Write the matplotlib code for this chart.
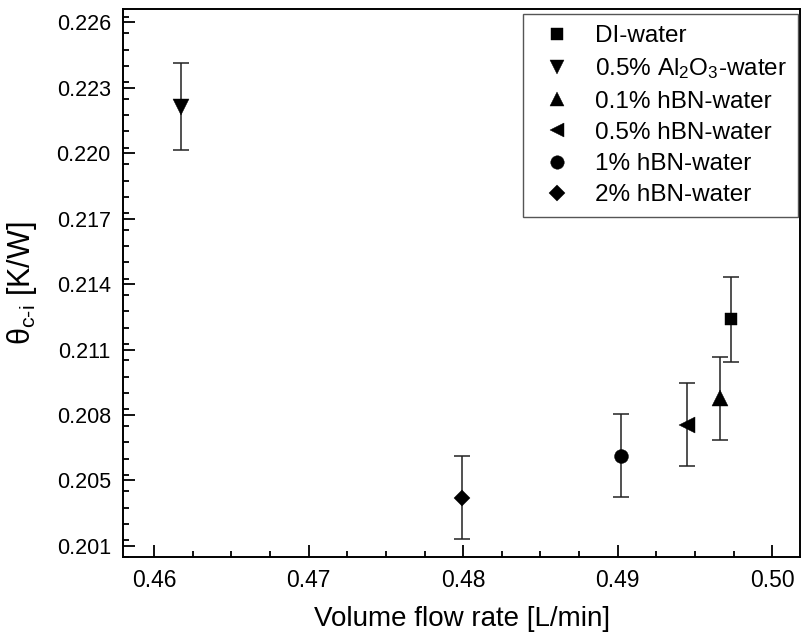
import matplotlib
matplotlib.use("Agg")
import matplotlib.pyplot as plt
from matplotlib.ticker import FixedLocator, FixedFormatter, MultipleLocator

plt.rcParams['font.family'] = ['Liberation Sans', 'DejaVu Sans']
plt.rcParams['mathtext.fontset'] = 'custom'
plt.rcParams['mathtext.rm'] = 'Liberation Sans'
plt.rcParams['mathtext.it'] = 'Liberation Sans'

# values
labels = ['DI-water', '0.5% Al$_2$O$_3$-water', '0.1% hBN-water',
          '0.5% hBN-water', '1% hBN-water', '2% hBN-water']
markers = ['s', 'v', '^', '<', 'o', 'D']
msizes = [9, 11, 11, 11, 10, 8.5]
flow = [0.4973, 0.4617, 0.4966, 0.4945, 0.4902, 0.4799]
theta = [0.21189, 0.22164, 0.20827, 0.20706, 0.20564, 0.20371]
err = [0.00194, 0.0020, 0.0019, 0.0019, 0.0019, 0.00189]

ytick_pos = [0.2015, 0.2045, 0.2075, 0.2105, 0.2135, 0.2165, 0.2195, 0.2225, 0.2255]
ytick_lab = ['0.201', '0.205', '0.208', '0.211', '0.214', '0.217', '0.220', '0.223', '0.226']
xtick_pos = [0.46, 0.47, 0.48, 0.49, 0.50]
xtick_lab = ['0.46', '0.47', '0.48', '0.49', '0.50']

fig = plt.figure(figsize=(8.03, 6.39), dpi=100)
ax = fig.add_axes([0.1536, 0.1288, 0.8427, 0.8566])

for i in range(len(labels)):
    ax.errorbar(flow[i], theta[i], yerr=err[i], fmt='none', ecolor='#222222',
                elinewidth=1.1, capsize=5.5, capthick=1.1, zorder=2)
    ax.plot(flow[i], theta[i], linestyle='none', marker=markers[i], markersize=msizes[i],
            color='black', markeredgecolor='black', markeredgewidth=0.3,
            label=labels[i], zorder=3)

ax.set_xlim(0.458, 0.5018)
ax.set_ylim(0.201, 0.2261)
ax.xaxis.set_major_locator(FixedLocator(xtick_pos))
ax.xaxis.set_major_formatter(FixedFormatter(xtick_lab))
ax.xaxis.set_minor_locator(MultipleLocator(0.0025))
ax.yaxis.set_major_locator(FixedLocator(ytick_pos))
ax.yaxis.set_major_formatter(FixedFormatter(ytick_lab))
ax.yaxis.set_minor_locator(MultipleLocator(0.00075))

ax.tick_params(which='both', direction='in', top=False, right=False, width=1.3, color='black')
ax.tick_params(which='major', length=8.5)
ax.tick_params(which='minor', length=4.5)
ax.tick_params(axis='x', labelsize=16.5, pad=9)
ax.tick_params(axis='y', labelsize=15.5, pad=9)
for s in ax.spines.values():
    s.set_linewidth(1.4)

ax.set_xlabel('Volume flow rate [L/min]', fontsize=20, labelpad=10)
ax.set_ylabel(r'θ$_{\mathregular{c\text{-}i}}$ [K/W]', fontsize=22)
ax.yaxis.set_label_coords(-0.125, 0.5)

leg = ax.legend(loc='upper right', bbox_to_anchor=(0.997, 0.991), fontsize=17.5,
                frameon=True, fancybox=False, edgecolor='#555555', framealpha=1,
                labelspacing=0.38, handlelength=1.9, handletextpad=0.6,
                borderpad=0.45, borderaxespad=0.0, markerscale=0.97)
leg.get_frame().set_linewidth(1.0)

fig.savefig('out.png', dpi=100)
